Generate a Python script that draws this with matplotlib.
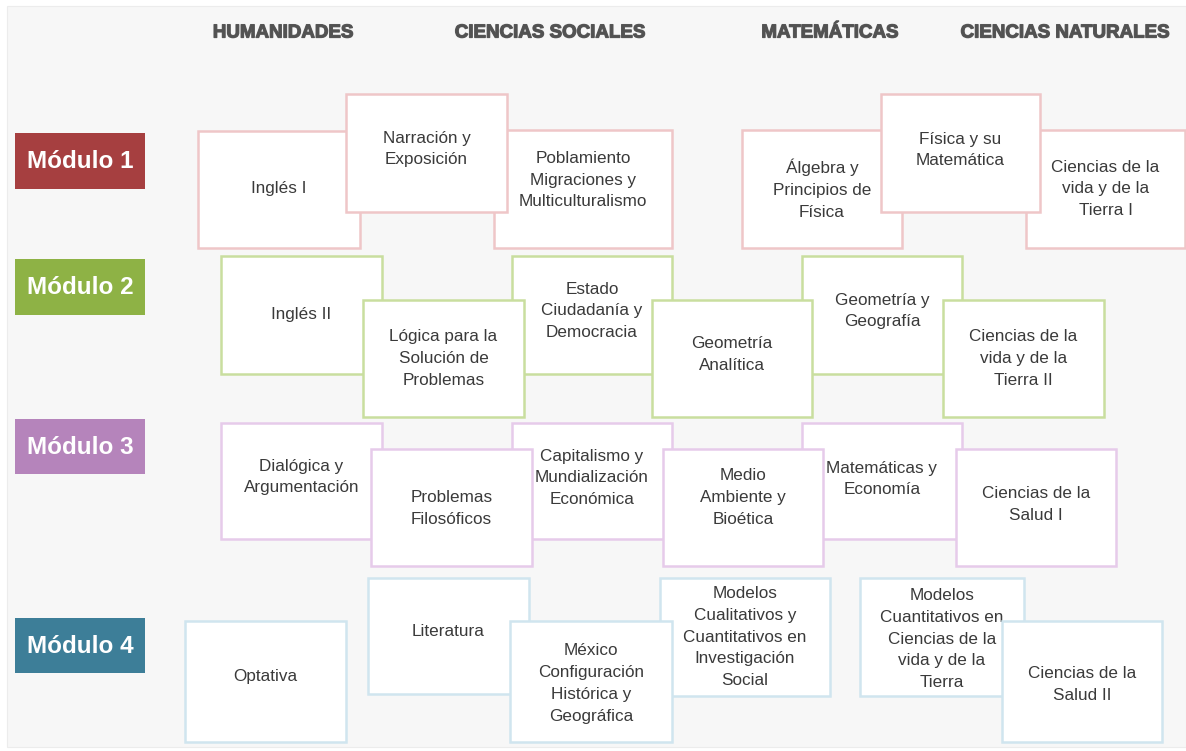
import matplotlib
matplotlib.use("Agg")
import matplotlib.pyplot as plt
from matplotlib.patches import Rectangle
import matplotlib.patheffects as pe

# ---------------- data ----------------
areas = ["HUMANIDADES", "CIENCIAS SOCIALES", "MATEMÁTICAS", "CIENCIAS NATURALES"]
modules = ["Módulo 1", "Módulo 2", "Módulo 3", "Módulo 4"]

subjects_m1 = ["Inglés I", "Narración y\nExposición",
               "Poblamiento\nMigraciones y\nMulticulturalismo",
               "Álgebra y\nPrincipios de\nFísica", "Física y su\nMatemática",
               "Ciencias de la\nvida y de la\nTierra I"]
subjects_m2 = ["Inglés II", "Lógica para la\nSolución de\nProblemas",
               "Estado\nCiudadanía y\nDemocracia", "Geometría\nAnalítica",
               "Geometría y\nGeografía", "Ciencias de la\nvida y de la\nTierra II"]
subjects_m3 = ["Dialógica y\nArgumentación", "Problemas\nFilosóficos",
               "Capitalismo y\nMundialización\nEconómica", "Medio\nAmbiente y\nBioética",
               "Matemáticas y\nEconomía", "Ciencias de la\nSalud I"]
subjects_m4 = ["Optativa", "Literatura",
               "México\nConfiguración\nHistórica y\nGeográfica",
               "Modelos\nCualitativos y\nCuantitativos en\nInvestigación\nSocial",
               "Modelos\nCuantitativos en\nCiencias de la\nvida y de la\nTierra",
               "Ciencias de la\nSalud II"]
subjects = [subjects_m1, subjects_m2, subjects_m3, subjects_m4]

# ---------------- layout (pixels, origin top-left) ----------------
W, H = 1186, 751
area_x = [283, 550, 830, 1065]
area_y = 33

module_boxes = [(15, 133, 145, 189), (15, 259, 145, 315),
                (15, 419, 145, 474), (15, 618, 145, 673)]
module_colors = ["#a63f40", "#8eb245", "#b584bb", "#3d7e98"]
border_colors = ["#efc6c8", "#c9de9f", "#e6cbea", "#d0e5ef"]

# (x0, y0, x1, y1, text_dy, layer)
layout = [
    [(198, 131, 360, 248, -1, 1), (346, 94, 507, 212, -4, 2),
     (494, 130, 672, 248, -9, 1), (742, 130, 902, 248, 0, 1),
     (881, 94, 1040, 212, -3, 2), (1026, 130, 1185, 248, 0, 1)],
    [(221, 256, 382, 374, 0, 1), (363, 300, 524, 417, 0, 2),
     (512, 256, 672, 374, -4, 1), (652, 300, 812, 417, -4, 2),
     (802, 256, 962, 374, -4, 1), (943, 300, 1104, 417, 0, 2)],
    [(221, 423, 382, 539, -4, 1), (371, 449, 532, 566, 1, 2),
     (512, 423, 672, 539, -3, 1), (663, 449, 823, 566, -10, 2),
     (802, 423, 962, 539, -2, 1), (956, 449, 1116, 566, -3, 2)],
    [(185, 621, 346, 742, -5, 1), (368, 578, 529, 694, -5, 1),
     (510, 621, 672, 742, 2, 2), (660, 578, 830, 696, 0, 1),
     (860, 578, 1024, 696, 2, 1), (1002, 621, 1162, 742, 3, 2)],
]

FONT = "Liberation Sans"

fig = plt.figure(figsize=(W / 100, H / 100), dpi=100)
fig.patch.set_facecolor("white")
ax = fig.add_axes([0, 0, 1, 1])
ax.set_xlim(0, W)
ax.set_ylim(H, 0)
ax.axis("off")

# background panel
ax.add_patch(Rectangle((7, 6), W - 7, 741, facecolor="#f7f7f7",
                       edgecolor="#ececec", linewidth=0.8, zorder=0))

# column headers
for name, x in zip(areas, area_x):
    ax.text(x, area_y, name, ha="center", va="center", fontsize=13.5,
            fontweight="bold", color="#525252", family=FONT, zorder=5,
            path_effects=[pe.withStroke(linewidth=0.9, foreground="#5a5a5a")])

# module labels
for name, (x0, y0, x1, y1), c in zip(modules, module_boxes, module_colors):
    ax.add_patch(Rectangle((x0, y0), x1 - x0, y1 - y0, facecolor=c,
                           edgecolor="none", zorder=2))
    ax.text((x0 + x1) / 2, (y0 + y1) / 2 + 1, name, ha="center", va="center",
            fontsize=17.5, fontweight="bold", color="white", family=FONT, zorder=3)

# subject boxes
for row, (labels, boxes) in enumerate(zip(subjects, layout)):
    for label, (x0, y0, x1, y1, dy, layer) in zip(labels, boxes):
        z = 2 + row * 0.1 + layer * 0.02
        ax.add_patch(Rectangle((x0, y0), x1 - x0, y1 - y0, facecolor="white",
                               edgecolor=border_colors[row], linewidth=1.8,
                               zorder=z))
        ax.text((x0 + x1) / 2, (y0 + y1) / 2 + dy, label, ha="center",
                va="center", fontsize=12.3, color="#3a3a3a", family=FONT,
                linespacing=1.58, zorder=z + 0.005)

fig.savefig("out.png", dpi=100, facecolor=fig.get_facecolor())
